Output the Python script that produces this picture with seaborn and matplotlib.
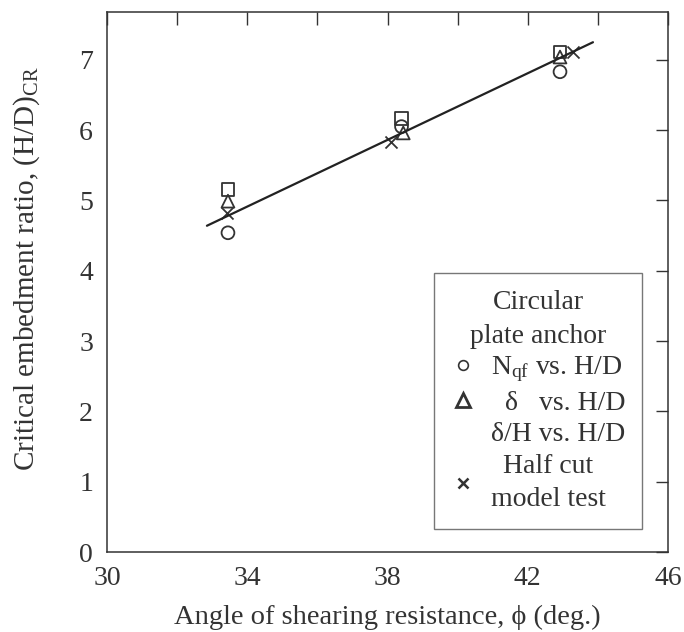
import matplotlib
matplotlib.use("Agg")
import matplotlib.pyplot as plt
from matplotlib.lines import Line2D
import numpy as np
import seaborn as sns

# ------------------------------------------------------------------
# Data
# ------------------------------------------------------------------
phi_nqf = [33.45, 38.40, 42.92]
hd_nqf = [4.54, 6.05, 6.83]

phi_delta = [33.45, 38.45, 42.92]
hd_delta = [4.99, 5.96, 7.04]

phi_delta_h = [33.45, 38.41, 42.92]
hd_delta_h = [5.16, 6.17, 7.11]

phi_half = [33.42, 38.10, 43.29]
hd_half = [4.82, 5.83, 7.11]

phi_fit = [32.85, 43.86]
hd_fit = [4.64, 7.25]

x_ticks = [30, 34, 38, 42, 46]
y_ticks = [0, 1, 2, 3, 4, 5, 6, 7]

# ------------------------------------------------------------------
# Style
# ------------------------------------------------------------------
sns.set_theme(style="white")
plt.rcParams["font.family"] = ["Liberation Serif", "DejaVu Serif"]
plt.rcParams["mathtext.fontset"] = "custom"
plt.rcParams["mathtext.rm"] = "Liberation Serif"
plt.rcParams["mathtext.it"] = "Liberation Serif"
plt.rcParams["text.color"] = "#333333"

ink = "#333333"

fig = plt.figure(figsize=(6.84, 6.32), dpi=100)
ax = fig.add_axes([107 / 684, (632 - 552) / 632, 561 / 684, 540 / 632])

# fitted line
sns.lineplot(x=phi_fit, y=hd_fit, ax=ax, color="#222222", linewidth=1.6)

mk = dict(s=85, facecolor="none", linewidth=1.3, edgecolor=ink, legend=False)
sns.scatterplot(x=phi_delta_h, y=hd_delta_h, marker="s", ax=ax, **mk)
sns.scatterplot(x=phi_delta, y=hd_delta, marker="^", ax=ax, **mk)
sns.scatterplot(x=phi_nqf, y=hd_nqf, marker="o", ax=ax, **mk)
sns.scatterplot(x=phi_half, y=hd_half, marker="x", ax=ax, s=75,
                color=ink, linewidth=1.3, legend=False)

# ------------------------------------------------------------------
# Axes
# ------------------------------------------------------------------
ax.set_xlim(30, 46)
ax.set_ylim(0, 7.68)
ax.set_xticks(np.arange(30, 47, 2))
ax.set_xticklabels([str(t) if t in x_ticks else "" for t in range(30, 47, 2)])
ax.set_yticks(y_ticks)
ax.set_yticklabels([str(t) for t in y_ticks])
ax.tick_params(direction="in", length=9, width=1.0, color=ink,
               top=True, right=True, labelsize=20, labelcolor=ink)
ax.tick_params(axis="x", pad=10)
ax.tick_params(axis="y", pad=10)
for sp in ax.spines.values():
    sp.set_color(ink)
    sp.set_linewidth(1.1)

ax.set_xlabel("Angle of shearing resistance, ϕ (deg.)", fontsize=20.5,
              color=ink, labelpad=10)
ax.set_ylabel(r"Critical embedment ratio, (H/D)$_{\mathrm{CR}}$", fontsize=21,
              color=ink)
ax.yaxis.set_label_coords(-0.116, 0.525)

# ------------------------------------------------------------------
# Legend
# ------------------------------------------------------------------
handles = [
    Line2D([], [], ls="none", marker="o", ms=7, mfc="none", mec=ink, mew=1.2),
    Line2D([], [], ls="none", marker="^", ms=10, mfc="none", mec=ink, mew=2.0),
    Line2D([], [], ls="none", marker=None),
    Line2D([], [], ls="none", marker="x", ms=7, mec=ink, mew=1.8),
]
labels = [
    r"N$_{\mathrm{qf}}$ vs. H/D",
    "  δ   vs. H/D",
    "δ/H vs. H/D",
    "Half cut\nmodel test",
]
leg = ax.legend(handles, labels, title="Circular\nplate anchor",
                loc="lower right", bbox_to_anchor=(0.9537, 0.043),
                fontsize=20, title_fontsize=20, frameon=True, fancybox=False,
                edgecolor="#555555", handlelength=0.9, handletextpad=0.55,
                labelspacing=0.22, borderpad=0.6, borderaxespad=0)
leg.get_frame().set_linewidth(1.0)
leg.get_title().set_multialignment("center")
leg.get_title().set_linespacing(1.45)
leg.get_title().set_color(ink)
for t in leg.get_texts():
    t.set_color(ink)
leg.get_texts()[3].set_multialignment("center")
leg.get_texts()[3].set_linespacing(1.45)

fig.savefig("out.png", dpi=100)
